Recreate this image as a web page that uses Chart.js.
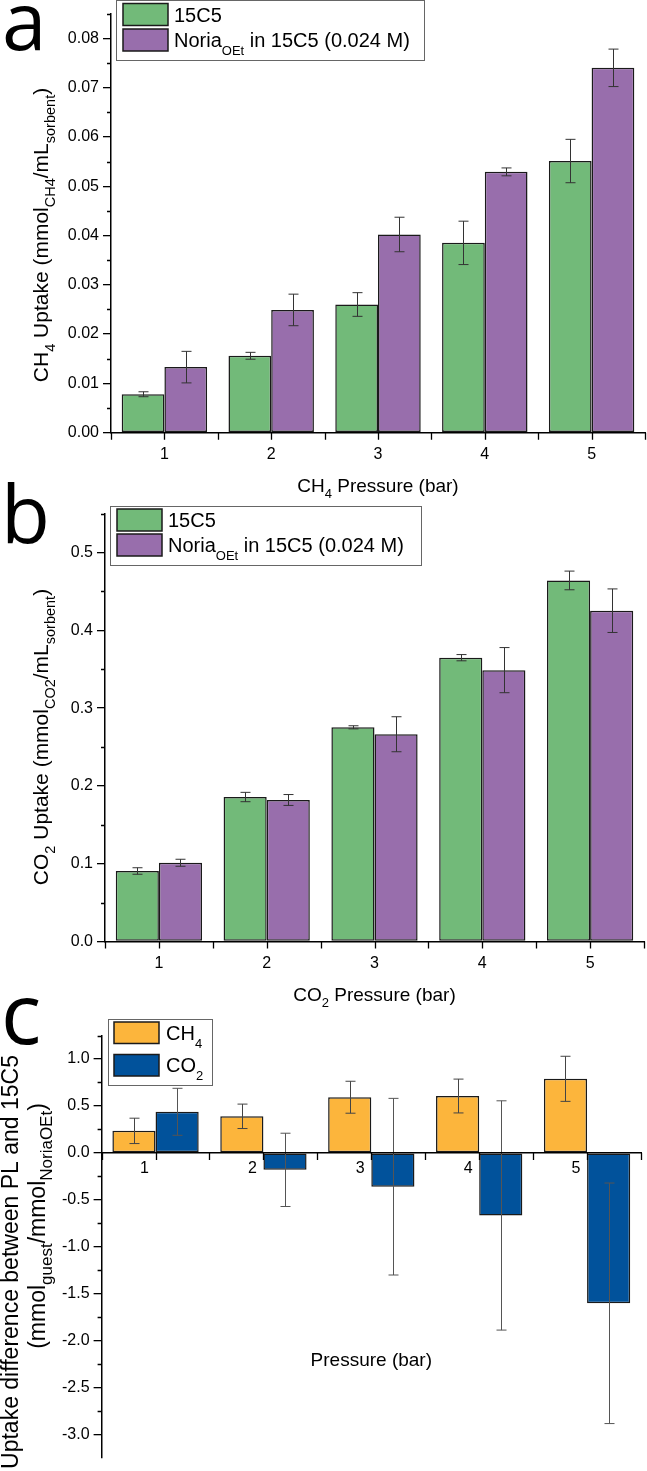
<!DOCTYPE html>
<html><head><meta charset="utf-8">
<script src="https://cdn.jsdelivr.net/npm/chart.js@4.4.1/dist/chart.umd.min.js"></script>
<style>
html,body{margin:0;padding:0;background:#fff;}
body{width:647px;height:1471px;position:relative;overflow:hidden;}
.pane{position:absolute;left:0;width:647px;}
.pane canvas{display:block;}
.letter{position:absolute;font-family:'Open Sans',sans-serif;line-height:1;color:#000;}
</style></head><body>
<div class="pane" style="top:0;height:500px"><canvas id="ca" width="647" height="500"></canvas></div>
<div class="pane" style="top:500px;height:510px"><canvas id="cb" width="647" height="510"></canvas></div>
<div class="pane" style="top:1010px;height:461px"><canvas id="cc" width="647" height="461"></canvas></div>
<div class="letter" style="left:2px;top:-21px;font-size:80px;">a</div>
<div class="letter" style="left:1px;top:472px;font-size:80px;">b</div>
<div class="letter" style="left:1px;top:970px;font-size:84px;">c</div>
<script>
// ---------- data ----------
const pressures = ['1', '2', '3', '4', '5'];
const seriesNames = ['15C5', 'Noria_{OEt} in 15C5 (0.024 M)'];
const diffNames = ['CH_{4}', 'CO_{2}'];

const ch4_15C5      = [0.0078, 0.0156, 0.0260, 0.0385, 0.0551];
const ch4_15C5_err  = [0.0005, 0.0007, 0.0024, 0.0044, 0.0044];
const ch4_noria     = [0.0133, 0.0249, 0.0402, 0.0529, 0.0740];
const ch4_noria_err = [0.0032, 0.0032, 0.0035, 0.0008, 0.0038];

const co2_15C5      = [0.0906, 0.1857, 0.2753, 0.3648, 0.4641];
const co2_15C5_err  = [0.0042, 0.0060, 0.0020, 0.0040, 0.0120];
const co2_noria     = [0.1012, 0.1819, 0.2664, 0.3488, 0.4252];
const co2_noria_err = [0.0045, 0.0070, 0.0225, 0.0290, 0.0280];

const diff_ch4      = [0.235, 0.390, 0.593, 0.606, 0.789];
const diff_ch4_err  = [0.135, 0.130, 0.170, 0.180, 0.240];
const diff_co2      = [0.438, -0.180, -0.359, -0.665, -1.600];
const diff_co2_err  = [0.250, 0.390, 0.940, 1.220, 1.280];

// ---------- styles ----------
const GREEN = 'rgb(114,186,121)';
const PURPLE = 'rgb(152,110,172)';
const ORANGE = 'rgb(252,181,60)';
const BLUE = 'rgb(1,82,155)';
const FONT = "'Liberation Sans', Arial, sans-serif";

Chart.defaults.font.family = FONT;
Chart.defaults.font.size = 16;
Chart.defaults.color = '#000';

// ---------- rich text helpers ----------
function parseRich(str){
  const segs=[]; const re=/_\{([^}]*)\}/g; let last=0,m;
  while((m=re.exec(str))){
    if(m.index>last) segs.push({t:str.slice(last,m.index),sub:false});
    segs.push({t:m[1],sub:true}); last=re.lastIndex;
  }
  if(last<str.length) segs.push({t:str.slice(last),sub:false});
  return segs;
}
function richWidth(ctx, str, size, subSize){
  let w=0;
  for(const s of parseRich(str)){
    ctx.font = (s.sub?subSize:size)+'px '+FONT;
    w += ctx.measureText(s.t).width;
  }
  return w;
}
function drawRich(ctx, str, x, y, size, subSize, subShift, align){
  const w = richWidth(ctx, str, size, subSize);
  let cx = align==='center' ? x - w/2 : x;
  ctx.fillStyle='#000'; ctx.textBaseline='alphabetic'; ctx.textAlign='left';
  for(const s of parseRich(str)){
    ctx.font = (s.sub?subSize:size)+'px '+FONT;
    ctx.fillText(s.t, cx, s.sub ? y+subShift : y);
    cx += ctx.measureText(s.t).width;
  }
}

// ---------- plugin: error bars, minor ticks, category ticks, legend, titles ----------
const decor = {
  id:'decor',
  afterDatasetsDraw(chart){
    const ctx=chart.ctx, ys=chart.scales.y;
    chart.data.datasets.forEach((ds,i)=>{
      if(!ds.errors) return;
      const meta=chart.getDatasetMeta(i);
      meta.data.forEach((el,j)=>{
        const v=ds.data[j], e=ds.errors[j];
        const y1=ys.getPixelForValue(v+e), y2=ys.getPixelForValue(v-e);
        const x=Math.round(el.x)+0.5;
        ctx.save(); ctx.strokeStyle=ds.errorColor||'#333'; ctx.lineWidth=1;
        ctx.beginPath();
        ctx.moveTo(x,y1); ctx.lineTo(x,y2);
        ctx.moveTo(x-5,y1); ctx.lineTo(x+5,y1);
        ctx.moveTo(x-5,y2); ctx.lineTo(x+5,y2);
        ctx.stroke(); ctx.restore();
      });
    });
  },
  afterDraw(chart, args, o){
    const ctx=chart.ctx, xs=chart.scales.x, ys=chart.scales.y, a=chart.chartArea;
    ctx.save();
    ctx.strokeStyle='#000'; ctx.lineWidth=1.3;
    // minor y ticks
    if(o.minorStep){
      const n0=Math.ceil(ys.min/o.minorStep-1e-9), n1=Math.floor(ys.max/o.minorStep+1e-9);
      ctx.beginPath();
      for(let n=n0;n<=n1;n++){
        if(n%2===0) continue;
        const py=Math.round(ys.getPixelForValue(n*o.minorStep))+0.5;
        ctx.moveTo(a.left-4,py); ctx.lineTo(a.left,py);
      }
      ctx.stroke();
    }
    // category ticks (centres and boundaries)
    const axisY = o.xAxisAtZero ? ys.getPixelForValue(0) : a.bottom;
    const n=chart.data.labels.length;
    const step=(xs.getPixelForValue(1)-xs.getPixelForValue(0));
    ctx.beginPath();
    for(let i=0;i<n;i++){
      const c=xs.getPixelForValue(i);
      for(const px of [c-step/2, c, c+step/2]){
        const rx=Math.round(px)+0.5;
        ctx.moveTo(rx,axisY); ctx.lineTo(rx,axisY+7);
      }
    }
    ctx.stroke();
    // legend
    const L=o.legend;
    if(L){
      ctx.strokeStyle='#666'; ctx.lineWidth=1;
      ctx.strokeRect(L.x+0.5,L.y+0.5,L.w,L.h);
      chart.data.datasets.forEach((ds,i)=>{
        const sy=L.rows[i];
        ctx.fillStyle=ds.backgroundColor;
        ctx.fillRect(L.sx,sy,L.sw,L.sh);
        ctx.strokeStyle='#1a1a1a'; ctx.lineWidth=1.5;
        ctx.strokeRect(L.sx,sy,L.sw,L.sh);
        drawRich(ctx, ds.label, L.tx, sy+L.sh/2+7.2, 20, 13, L.subShift||7, 'left');
      });
    }
    // x title
    if(o.xTitle){
      const t=o.xTitle;
      drawRich(ctx, t.text, t.x!=null?t.x:(a.left+a.right)/2, t.y, t.size, t.subSize, t.subShift, 'center');
    }
    // y titles (rotated)
    for(const t of (o.yTitles||[])){
      ctx.save();
      ctx.translate(t.x, t.y);
      ctx.rotate(-Math.PI/2);
      drawRich(ctx, t.text, 0, 0, t.size, t.subSize, t.subShift, 'center');
      ctx.restore();
    }
    ctx.restore();
  }
};

const barDefaults = {barPercentage:1, categoryPercentage:0.8, borderWidth:1.5, borderColor:'#1a1a1a', borderSkipped:false};

function yAxis(min,max,step,dec,width){
  return {
    min, max,
    ticks:{stepSize:step, includeBounds:false, padding:4, color:'#000', font:{size:16}, callback:v=>Number(v).toFixed(dec), z:1},
    grid:{display:true, drawOnChartArea:false, drawTicks:true, tickLength:8, color:'#000', lineWidth:1.3},
    border:{display:true, color:'#000', width:1.5, z:1},
    afterFit(s){ s.width=width; }
  };
}
function xAxis(height, extra){
  return Object.assign({
    type:'category', offset:true,
    grid:{display:false, drawTicks:false, offset:true},
    border:{display:true, color:'#000', width:1.5, z:1},
    ticks:{padding:12, color:'#000', font:{size:16}, maxRotation:0, autoSkip:false, z:1},
    afterFit(s){ s.height=height; }
  }, extra||{});
}
function baseOptions(){
  return {responsive:false, animation:false, events:[], devicePixelRatio:1};
}

// ---------- Chart a ----------
new Chart(document.getElementById('ca'), {
  type:'bar',
  data:{labels:pressures, datasets:[
    Object.assign({label:seriesNames[0], data:ch4_15C5, errors:ch4_15C5_err, backgroundColor:GREEN}, barDefaults),
    Object.assign({label:seriesNames[1], data:ch4_noria, errors:ch4_noria_err, backgroundColor:PURPLE}, barDefaults)
  ]},
  options:Object.assign(baseOptions(),{
    layout:{padding:{top:2, right:2, left:0, bottom:0}},
    plugins:{legend:{display:false}, tooltip:{enabled:false},
      decor:{
        minorStep:0.005,
        legend:{x:116, y:0, w:308, h:60, sx:123, sw:45, sh:22, rows:[3.5,29], tx:174, subShift:8},
        xTitle:{text:'CH_{4} Pressure (bar)', y:492, size:19, subSize:13, subShift:6},
        yTitles:[{text:'CH_{4} Uptake (mmol_{CH4}/mL_{sorbent})', x:48, y:235, size:21, subSize:14.5, subShift:7}]
      }},
    scales:{
      x:xAxis(67.3),
      y:yAxis(0,0.085,0.01,2,111)
    }
  }),
  plugins:[decor]
});

// ---------- Chart b ----------
new Chart(document.getElementById('cb'), {
  type:'bar',
  data:{labels:pressures, datasets:[
    Object.assign({label:seriesNames[0], data:co2_15C5, errors:co2_15C5_err, backgroundColor:GREEN}, barDefaults),
    Object.assign({label:seriesNames[1], data:co2_noria, errors:co2_noria_err, backgroundColor:PURPLE}, barDefaults)
  ]},
  options:Object.assign(baseOptions(),{
    layout:{padding:{top:8, right:3, left:0, bottom:0}},
    plugins:{legend:{display:false}, tooltip:{enabled:false},
      decor:{
        minorStep:0.05,
        legend:{x:110, y:6, w:311, h:59, sx:117, sw:45, sh:22, rows:[9,34], tx:168, subShift:8},
        xTitle:{text:'CO_{2} Pressure (bar)', y:501, size:19, subSize:13, subShift:6},
        yTitles:[{text:'CO_{2} Uptake (mmol_{CO2}/mL_{sorbent})', x:48, y:237, size:21, subSize:14.5, subShift:7}]
      }},
    scales:{
      x:xAxis(68.5),
      y:yAxis(0,0.55,0.1,1,105)
    }
  }),
  plugins:[decor]
});

// ---------- Chart c ----------
new Chart(document.getElementById('cc'), {
  type:'bar',
  data:{labels:pressures, datasets:[
    Object.assign({label:diffNames[0], data:diff_ch4, errors:diff_ch4_err, backgroundColor:ORANGE, errorColor:'#444'}, barDefaults),
    Object.assign({label:diffNames[1], data:diff_co2, errors:diff_co2_err, backgroundColor:BLUE, errorColor:'#555'}, barDefaults)
  ]},
  options:Object.assign(baseOptions(),{
    layout:{padding:{top:25.5, right:6, left:0, bottom:0}},
    plugins:{legend:{display:false}, tooltip:{enabled:false},
      decor:{
        minorStep:0.25,
        xAxisAtZero:true,
        legend:{x:108, y:9, w:104, h:66, sx:114, sw:45, sh:21.5, rows:[12,44.5], tx:166, subShift:8},
        xTitle:{text:'Pressure (bar)', y:356, size:19, subSize:13, subShift:6},
        yTitles:[
          {text:'Uptake difference between PL and 15C5', x:18, y:252, size:23, subSize:16, subShift:7},
          {text:'(mmol_{guest}/mmol_{NoriaOEt})', x:45, y:216, size:23, subSize:17, subShift:7}
        ]
      }},
    scales:{
      x:xAxis(0,{position:{y:0}, ticks:{padding:6, labelOffset:-11, color:'#000', font:{size:16}, maxRotation:0, autoSkip:false, z:1}}),
      y:yAxis(-3.24,1.25,0.5,1,101.6)
    }
  }),
  plugins:[decor]
});
</script>
</body></html>
